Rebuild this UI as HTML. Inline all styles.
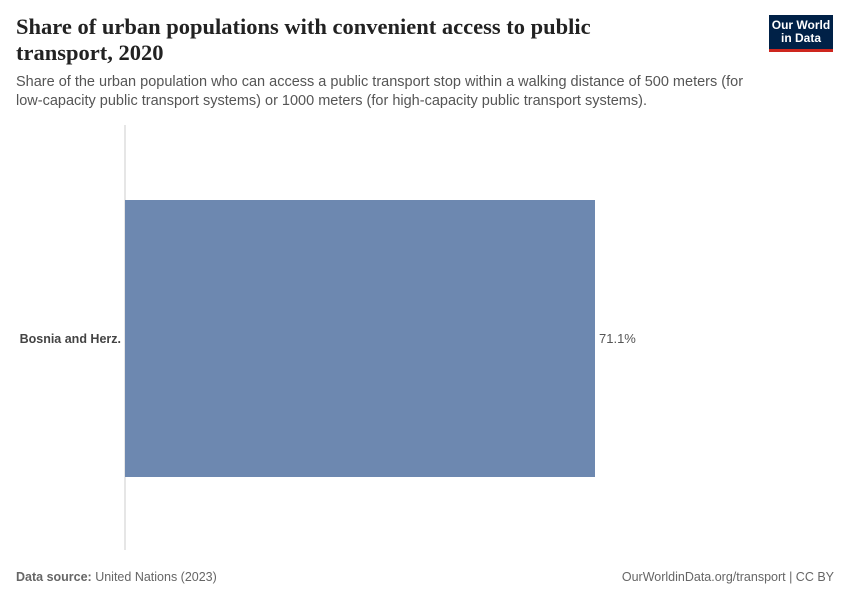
<!DOCTYPE html>
<html><head><meta charset="utf-8"><style>
body{margin:0;width:850px;height:600px;background:#fff;font-family:"Liberation Sans",sans-serif;position:relative;overflow:hidden}
.t{position:absolute;left:16px;top:14px;font-family:"Liberation Serif",serif;font-weight:bold;font-size:22.5px;line-height:26px;color:#222;width:610px}
.s{position:absolute;left:16px;top:73px;font-size:14.5px;line-height:19px;color:#555;width:755px}
.logo{position:absolute;left:769px;top:15px;width:64px;height:37px;background:#002147;border-bottom:3px solid #ce261e;box-sizing:border-box;color:#fff;font-size:12px;line-height:13px;text-align:center;padding-top:4px;font-weight:bold}
.f{position:absolute;top:570px;font-size:12.5px;color:#666}
</style></head><body>
<div class="t">Share of urban populations with convenient access to public transport, 2020</div>
<div class="s">Share of the urban population who can access a public transport stop within a walking distance of 500 meters (for low-capacity public transport systems) or 1000 meters (for high-capacity public transport systems).</div>
<div class="logo">Our World<br>in Data</div>
<svg id="c" width="850" height="600" style="position:absolute;left:0;top:0"></svg>
<div class="f" style="left:16px"><b>Data source:</b> United Nations (2023)</div>
<div class="f" style="right:16px">OurWorldinData.org/transport | CC BY</div>
<script>
const categories=["Bosnia and Herz."];
const values=[71.1];
const valueLabels=["71.1%"];
const svg=document.getElementById('c');
const NS='http://www.w3.org/2000/svg';
const x0=125,x1=595,y0=200,y1=477;
const xMax=Math.max(...values);
const xs=v=>x0+(v/xMax)*(x1-x0);
const bh=(y1-y0)/categories.length;
function mk(t,a){const e=document.createElementNS(NS,t);for(const k in a)e.setAttribute(k,a[k]);svg.appendChild(e);return e;}
const ax=mk('line',{x1:x0,x2:x0,y1:125,y2:550,stroke:'#ccc'});


categories.forEach((c,i)=>{
 const top=y0+i*bh;
 const r=mk('rect',{x:x0,y:top,width:xs(values[i])-x0,height:bh,fill:'#6d88b0'});
 
 
 const l=mk('text',{x:x0-4,y:top+bh/2+4.5,'text-anchor':'end','font-size':'12.5','font-weight':'bold',fill:'#444'});
 l.textContent=c;
 
 
 const v=mk('text',{x:xs(values[i])+4,y:top+bh/2+4.5,'font-size':'13',fill:'#555'});
 v.textContent=valueLabels[i];
 
 
});
</script>
</body></html>
